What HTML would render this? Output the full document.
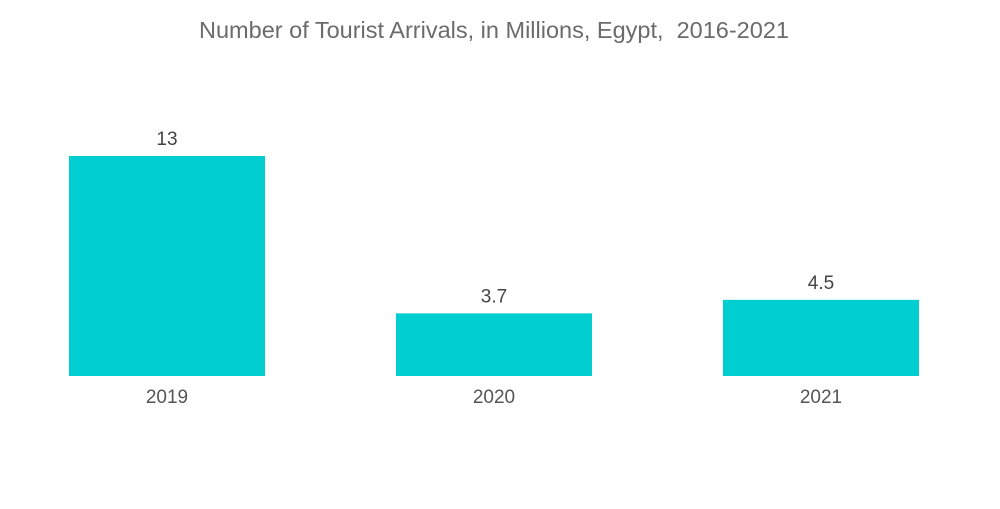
<!DOCTYPE html>
<html><head><meta charset="utf-8"><style>
body{margin:0;background:#fff;width:1000px;height:504px;overflow:hidden;font-family:"Liberation Sans",sans-serif}
</style></head><body>
<svg id="c" width="1000" height="504">
<text x="494" y="38" text-anchor="middle" font-size="23.5" fill="#6b6b6b" style="white-space:pre">Number of Tourist Arrivals, in Millions, Egypt,  2016-2021</text>
</svg>
<script>
const categories=["2019","2020","2021"];
const values=[13,3.7,4.5];
const valueLabels=["13","3.7","4.5"];
const svg=document.getElementById('c');
const NS='http://www.w3.org/2000/svg';
const baseY=376, pxPerUnit=220/13;
const y=v=>baseY-v*pxPerUnit;
const xCenter=i=>167+i*327;
const bw=196;
categories.forEach((c,i)=>{
 const r=document.createElementNS(NS,'rect');
 r.setAttribute('x',xCenter(i)-bw/2);r.setAttribute('y',y(values[i]));
 r.setAttribute('width',bw);r.setAttribute('height',baseY-y(values[i]));
 r.setAttribute('fill','#00ced1');
 
 
 svg.appendChild(r);
 const t=document.createElementNS(NS,'text');
 t.setAttribute('x',xCenter(i));t.setAttribute('y',y(values[i])-11);
 t.setAttribute('text-anchor','middle');t.setAttribute('font-size','19');t.setAttribute('fill','#444');
 t.textContent=valueLabels[i];
 
 
 svg.appendChild(t);
 const l=document.createElementNS(NS,'text');
 l.setAttribute('x',xCenter(i));l.setAttribute('y',403);
 l.setAttribute('text-anchor','middle');l.setAttribute('font-size','19');l.setAttribute('fill','#555');
 l.textContent=c;
 
 
 svg.appendChild(l);
});
</script>
</body></html>
